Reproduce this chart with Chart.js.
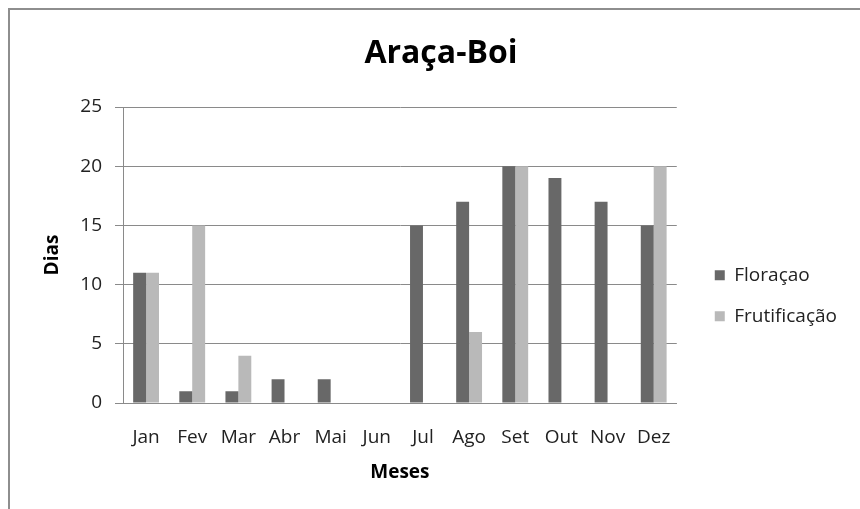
<!DOCTYPE html>
<html>
<head>
<meta charset="utf-8">
<script src="https://cdn.jsdelivr.net/npm/chart.js@4/dist/chart.umd.min.js"></script>
<style>
  html, body { margin: 0; padding: 0; background: #fff; }
  #wrap { position: relative; width: 860px; height: 509px; overflow: hidden; }
  #frame { position: absolute; left: 8px; top: 8px; width: 900px; height: 600px; border: 2px solid #8e8e8e; }
  #c { position: absolute; left: 0; top: 0; }
</style>
</head>
<body>
<div id="wrap">
  <div id="frame"></div>
  <canvas id="c" width="860" height="509"></canvas>
</div>
<script>
// data
const meses = ['Jan', 'Fev', 'Mar', 'Abr', 'Mai', 'Jun', 'Jul', 'Ago', 'Set', 'Out', 'Nov', 'Dez'];
const floracao = [11, 1, 1, 2, 2, 0, 15, 17, 20, 19, 17, 15];
const frutificacao = [11, 15, 4, 0, 0, 0, 0, 6, 20, 0, 0, 20];
const yTicks = [0, 5, 10, 15, 20, 25];

const fontFamily = '"Open Sans", "Noto Sans", sans-serif';
const ctx = document.getElementById('c').getContext('2d');

new Chart(ctx, {
    type: 'bar',
    data: {
        labels: meses,
        datasets: [
            { label: 'Floraçao', data: floracao, backgroundColor: '#686868' },
            { label: 'Frutificação', data: frutificacao, backgroundColor: '#b9b9b9' }
        ]
    },
    options: {
        responsive: false,
        animation: false,
        layout: { padding: { top: 10, left: 10, right: 13, bottom: 10 } },
        datasets: {
            bar: { categoryPercentage: 0.56, barPercentage: 1.0, borderWidth: 0 }
        },
        plugins: {
            title: {
                display: true,
                // leading spaces nudge the centred title right, as in the reference
                text: '   Araça-Boi',
                color: '#000',
                font: { family: fontFamily, size: 32, weight: 'bold' },
                padding: { top: 25, bottom: 33.6 }
            },
            legend: {
                position: 'right',
                align: 'center',
                maxWidth: 220,
                // empty title only pushes the entries down to where the reference has them
                title: { display: true, text: ' ', font: { size: 12 }, padding: { top: 68, bottom: 0 } },
                labels: {
                    boxWidth: 10,
                    boxHeight: 10,
                    padding: 22,
                    color: '#222',
                    font: { family: fontFamily, size: 19 }
                }
            },
            tooltip: { enabled: false }
        },
        scales: {
            x: {
                grid: { display: false },
                border: { display: true, color: '#8a8a8a', width: 1 },
                ticks: { color: '#222', padding: 15, font: { family: fontFamily, size: 19 } },
                title: {
                    display: true,
                    text: 'Meses',
                    color: '#000',
                    font: { family: fontFamily, size: 19, weight: 'bold' },
                    padding: { top: 0, bottom: 15 }
                },
                afterFit(scale) { scale.height = 96; }
            },
            y: {
                min: 0,
                max: 25,
                afterBuildTicks(scale) { scale.ticks = yTicks.map(v => ({ value: v })); },
                grid: { color: '#8a8a8a', tickLength: 8, tickColor: '#8a8a8a' },
                border: { display: true, color: '#8a8a8a', width: 1 },
                ticks: { color: '#222', padding: 13, font: { family: fontFamily, size: 19 } },
                title: {
                    display: true,
                    text: 'Dias',
                    color: '#000',
                    font: { family: fontFamily, size: 19, weight: 'bold' },
                    padding: { top: 31.6, bottom: 0 }
                },
                afterFit(scale) { scale.width = 113; }
            },
            y2: {
                position: 'right',
                display: true,
                grid: { display: false },
                border: { display: false },
                ticks: { display: false },
                afterFit(scale) { scale.width = 16; }
            }
        }
    }
});
</script>
</body>
</html>
